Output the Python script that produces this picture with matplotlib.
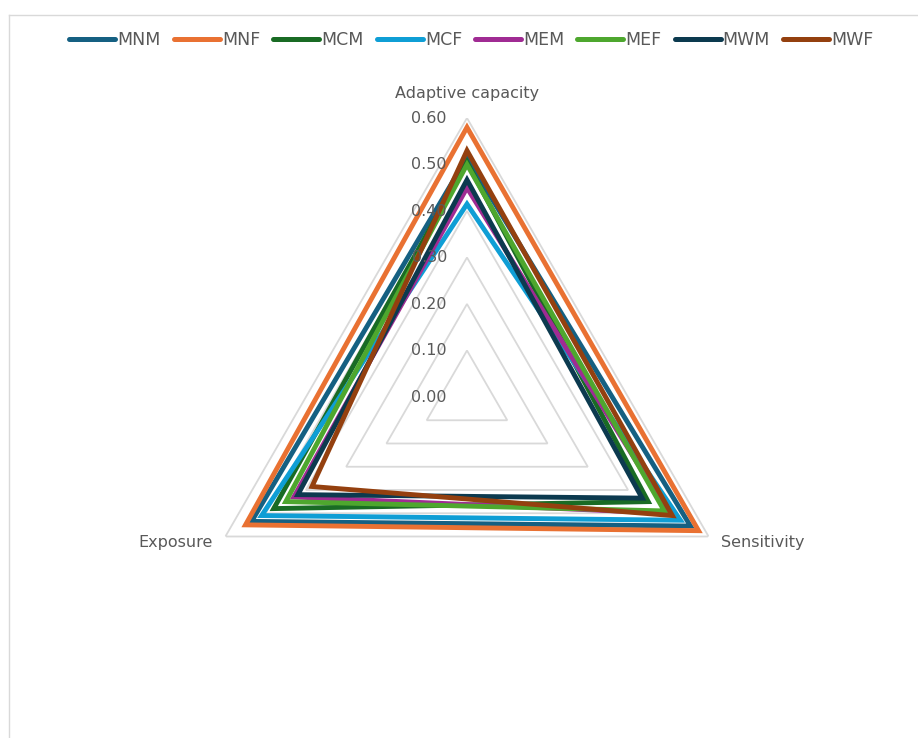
import numpy as np
import matplotlib.pyplot as plt
from matplotlib.transforms import ScaledTranslation
from matplotlib.lines import Line2D

plt.rcParams['font.family'] = ['DejaVu Sans']

categories = ["Adaptive capacity", "Sensitivity", "Exposure"]
series_names = ["MNM", "MNF", "MCM", "MCF", "MEM", "MEF", "MWM", "MWF"]
mnm = [0.515, 0.555, 0.535]
mnf = [0.58, 0.575, 0.55]
mcm = [0.505, 0.45, 0.48]
mcf = [0.415, 0.53, 0.51]
mem = [0.45, 0.50, 0.43]
mef = [0.50, 0.49, 0.45]
mwm = [0.467, 0.435, 0.42]
mwf = [0.53, 0.51, 0.385]
ticks = [0.0, 0.1, 0.2, 0.3, 0.4, 0.5, 0.6]

colors = ["#156082", "#E97132", "#196B24", "#0F9ED5", "#A02B93", "#4EA72E", "#0C3A4F", "#94400F"]
grey = "#595959"
DPI = 100

fig = plt.figure(figsize=(9.18, 7.38), dpi=DPI)
ax = fig.add_axes([0.2048, 0.0840, 0.6078, 0.7561], projection='polar')
ax.set_theta_offset(np.pi / 2)
ax.set_theta_direction(-1)
ax.set_ylim(0, 0.6)
ax.grid(False)
ax.spines['polar'].set_visible(False)
ax.set_xticks([])
ax.set_yticks([])

angles = np.linspace(0, 2 * np.pi, len(categories), endpoint=False)


def px(dx, dy):
    return ax.transData + ScaledTranslation(dx / DPI, dy / DPI, fig.dpi_scale_trans)


# triangular grid
for t in ticks[1:]:
    ax.fill(angles, [t] * len(categories), facecolor='none', edgecolor="#d9d9d9",
            lw=1.3, zorder=1, joinstyle='miter')

handles = []
for name, vals, c in zip(series_names, [mnm, mnf, mcm, mcf, mem, mef, mwm, mwf], colors):
    ax.fill(angles, vals, facecolor='none', edgecolor=c, lw=3.5, zorder=3, joinstyle='miter')
    handles.append(Line2D([], [], color=c, lw=3.6, solid_capstyle='round', label=name))

# radial tick labels
for t in ticks:
    ax.text(0, t, f"{t:.2f}", transform=px(-20, 0), ha='right', va='center',
            fontsize=11.5, color=grey, zorder=4)

# category labels
ax.text(0, 0.6, categories[0], transform=px(0, 17), ha='center', va='bottom',
        fontsize=11.5, color=grey)
ax.text(angles[1], 0.6, categories[1], transform=px(12, -6), ha='left', va='center',
        fontsize=11.5, color=grey)
ax.text(angles[2], 0.6, categories[2], transform=px(-13, -6), ha='right', va='center',
        fontsize=11.5, color=grey)

fig.legend(handles=handles, loc='center', bbox_to_anchor=(0.5135, 0.9458), ncol=8, frameon=False,
           fontsize=12.5, handlelength=2.65, handletextpad=0.12, columnspacing=0.75,
           labelcolor=grey)

# chart area border (left and top edges visible)
fig.add_artist(Line2D([0.0098, 0.0098], [0.0, 0.980], color="#d9d9d9", lw=1.0, transform=fig.transFigure))
fig.add_artist(Line2D([0.0098, 1.0], [0.980, 0.980], color="#d9d9d9", lw=1.0, transform=fig.transFigure))

fig.savefig("out.png", dpi=DPI, facecolor="white")
